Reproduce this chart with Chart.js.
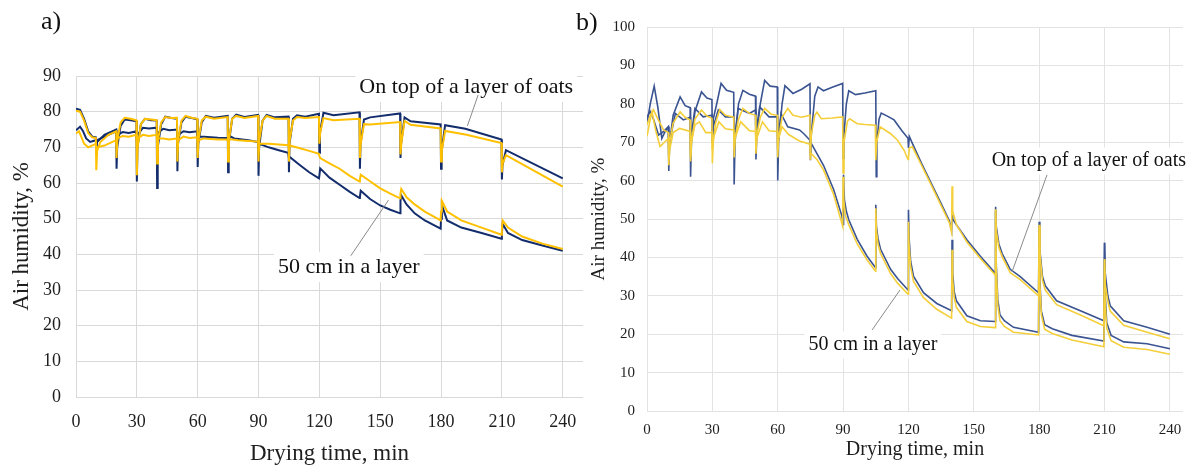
<!DOCTYPE html>
<html>
<head>
<meta charset="utf-8">
<script src="https://cdn.jsdelivr.net/npm/chart.js@4.4.1/dist/chart.umd.min.js"></script>
<style>
  body { margin: 0; background: #fff; width: 1200px; height: 468px; overflow: hidden; position: relative; font-family: 'Liberation Serif', 'Times New Roman', serif; }
  canvas { position: absolute; top: 0; }
  #ca { left: 0; }
  #cb { left: 590px; }
  .tag { position: absolute; font-size: 26px; line-height: 1; color: #111; }
</style>
</head>
<body>
<canvas id="ca" width="600" height="468"></canvas>
<canvas id="cb" width="610" height="468"></canvas>
<div class="tag" style="left:41px;top:8px">a)</div>
<div class="tag" style="left:576px;top:9px">b)</div>
<script>
// ---- data: [drying time, min ; air humidity, %] ----
// a) top of the oat layer
var aTopNavy = [[0,80.8],[2,80.5],[4,78],[6,74.5],[8,73],[9.8,72.8],[10,69],[10.4,71.5],[14,73.5],[19.8,75],[20,64],[20.3,70],[22,76],[24,77.8],[27,77.6],[29.8,77.3],[30,60.4],[30.3,70],[32,76.5],[34,78],[37,77.6],[39.8,77.5],[40,58.6],[40.3,70],[42,76.5],[44,78.6],[47,78.2],[49.8,78],[50,63.3],[50.3,71],[52,77],[54,78.6],[57,78.2],[59.8,77.9],[60,64.5],[60.3,71],[62,77],[64,78.8],[68,78.3],[74.8,78.8],[75,63],[75.3,71],[77,78],[79,79.2],[83,78.5],[89.8,79.1],[90,62],[90.3,70],[92,77.5],[94,79.1],[98,78.4],[104.8,78.6],[105,63],[105.3,71],[107,78],[109,79],[113,78.6],[119.8,79.4],[120,68.5],[120.3,74],[122,79.7],[127,79],[139.8,79.8],[140,64],[140.3,71],[142,77.8],[145,78.4],[159.8,79.5],[160,67],[160.3,71],[162,78.4],[165,77.3],[179.8,76.4],[180,64],[180.3,69],[182,76.2],[192,75.2],[209.8,72.2],[210,61],[210.3,65],[212,69.2],[240,61.3]];
var aTopYellow = [[0,80.3],[2,80],[4,77.5],[6,74],[8,72.8],[9.8,72.6],[10,63.6],[10.4,69],[12,71.5],[16,73.5],[19.8,74.5],[20,67],[20.4,72],[22,77],[24,78.3],[27,78],[29.8,77.6],[30,62.2],[30.4,70],[32,76.5],[34,78],[37,77.8],[39.8,77.6],[40,65.5],[40.4,72],[42,77],[44,78.5],[47,78.2],[49.8,78.3],[50,66],[50.4,72],[52,77.5],[54,78.8],[57,78.3],[59.8,78],[60,67],[60.4,72],[62,77.5],[64,78.6],[68,78],[74.8,78.5],[75,66],[75.4,72],[77,78],[79,78.8],[83,78.2],[89.8,78.8],[90,66],[90.4,72],[92,77.5],[94,78.8],[98,78],[104.8,78],[105,66],[105.4,72],[107,77.5],[109,78.5],[113,78.2],[119.8,78.5],[120,71],[120.4,74],[122,78.2],[127,77.6],[139.8,78],[140,67],[140.4,71],[142,76.5],[145,76.4],[159.8,77.1],[160,68],[160.4,71],[162,77.4],[165,76.3],[179.8,75.3],[180,66],[180.4,69],[182,74.6],[192,73.6],[209.8,71.2],[210,63],[210.4,65.5],[212,67.8],[240,59]];
// a) 50 cm deep in the layer
var aLayerNavy = [[0,74.8],[2,75.8],[3.5,74.5],[5,72.5],[7,71.5],[9.8,72],[10,70.5],[10.4,72],[14,73],[19.8,74.5],[20,72],[20.4,73.5],[23,74.3],[26,74],[29.8,74.5],[30,71.5],[30.4,73.5],[33,75.5],[36,75.3],[39.8,75.5],[40,72.5],[40.4,74],[43,75.2],[46,74.8],[49.8,75],[50,72.5],[50.4,73.5],[53,74.5],[56,74.2],[59.8,74.5],[60,72],[60.4,73],[63,73],[70,72.7],[74.8,72.6],[75,71.5],[75.4,73.3],[78,72.5],[85,72],[89.8,71.5],[90,70],[90.4,71],[95,70],[100,69.2],[104.6,68.5],[105,67],[105.4,67.3],[110,65.2],[115,63],[119.8,61.3],[120,62],[120.4,64.1],[125,61.5],[130,59.5],[135,57.5],[139.8,55.8],[140,56.2],[140.4,57.8],[145,55.5],[150,53.7],[155,52.5],[159.8,51.5],[160,55],[160.4,56.5],[163,54],[167,51.5],[172,49.5],[179.8,47.2],[180,50],[180.4,53.8],[183,49.5],[190,47.5],[200,46],[209.8,44.4],[210,46],[210.4,48.5],[213,46],[220,44],[230,42.5],[240,41]];
var aLayerYellow = [[0,73.9],[1.5,74.5],[4,71],[6,70],[9.8,71],[10,68],[10.4,70],[14,70.5],[19.8,72],[20,70.5],[20.4,72.5],[23,73.2],[26,73],[29.8,73.5],[30,70],[30.4,72.5],[33,73.5],[36,73.2],[39.8,73.5],[40,71],[40.4,72.5],[43,72.5],[46,72.2],[49.8,72.5],[50,71],[50.4,72],[53,73],[56,72.6],[59.8,72.8],[60,71],[60.4,72],[63,72.5],[70,72.2],[74.8,72.2],[75,71],[75.4,72.3],[80,72],[85,71.8],[89.8,71.6],[90,70],[90.4,71],[95,71],[100,70.8],[104.8,70.6],[105,69.5],[105.4,70.5],[110,69.8],[115,69],[119.8,68.2],[120,67.5],[120.4,67],[125,65.5],[130,64],[135,62],[139.8,60.4],[140,61],[140.4,62.3],[145,60.5],[150,58.5],[155,57],[159.8,55.7],[160,57],[160.4,58.3],[163,56],[167,54],[172,52],[179.8,49.5],[180,52],[180.4,55],[183,52],[190,49.5],[200,47.5],[209.8,45.5],[210,47],[210.4,49.5],[213,47.5],[220,45],[230,43],[240,41.5]];

// b) top of the oat layer
var bTopNavy = [[0,75],[1.5,80],[3.3,84.6],[5,79],[6.8,71],[8.5,73],[9.8,74],[10,62.5],[10.4,70],[12,77],[15.2,81.8],[17.5,79.5],[19.8,79],[20,61],[20.4,70],[22,78],[25,83.1],[27.5,81.5],[29.8,81.1],[30,70],[30.4,76],[32,80],[34,85.3],[36.5,83.5],[39.8,83],[40,59],[40.4,70],[42,80],[44,83.5],[47,82.5],[49.8,82],[50,65.5],[50.4,72],[52,80],[54,86.1],[56.5,84.6],[59.8,84.4],[60,60],[60.4,70],[62,80],[63.3,84.7],[67,82.7],[71,83.8],[74.8,85.2],[75,65.3],[75.4,72],[77,82],[78.5,84.4],[81,83.4],[85,84.3],[89.8,85.3],[90,65.8],[90.4,72],[91.5,80],[92.6,83.4],[95.7,82.4],[100,82.8],[105,83.4],[105.2,61],[105.5,70],[106.5,76],[107.5,77.6],[110.3,76.8],[113.4,75.8],[117,73],[119.8,71],[120,68.5],[120.4,71.5],[121.8,69.7],[126,64.5],[130.3,59.5],[135,54],[138.8,49.5],[139.8,47],[140,51],[140.3,50],[142,48.5],[146.8,44.6],[153,40.3],[159.8,35.9],[160,53.2],[160.3,48],[161.5,43.5],[163,41],[166.7,36.9],[171.3,35],[179.7,30.8],[180,49.3],[180.3,42],[181.5,35],[182.8,32.6],[188,28.7],[198.9,26.1],[209.7,23.5],[210,43.8],[210.3,36],[211.5,30],[212.6,27.4],[218.8,23.5],[229.5,21.8],[240,20]];
var bTopYellow = [[0,74.5],[1.5,77],[3,78.4],[5,76],[7.6,73.2],[9.8,72.5],[10,66],[10.4,70],[12,75],[15.2,77.9],[17.5,76.5],[19.8,75.8],[20,65],[20.4,70],[22,76],[25,78.4],[27.5,76.8],[29.8,76.2],[30,64.5],[30.4,70],[31.5,75],[33.4,78.5],[36,77],[39.8,76.5],[40,66],[40.4,71],[42,76],[44,78.8],[47,77.5],[49.8,77],[50,67],[50.4,72],[52,76.5],[54,78.8],[57,77.3],[59.8,77],[60,66],[60.4,71],[62,76.5],[64.6,78.8],[67,77],[71,76.5],[74.8,77],[75,65.4],[75.4,72],[77,77],[78,77.8],[80,76.1],[85,76.3],[89.8,76.6],[90,62],[90.4,70],[92,75.5],[93,76.1],[96.5,74.8],[100,74.6],[104.8,74.4],[105,65.3],[105.4,70],[107,74],[111.8,72.2],[115,70.5],[118,67.9],[119.8,65.5],[120,66],[120.4,68.5],[121.8,68.8],[126,64],[130.3,59],[135,53.5],[138.8,49],[139.8,46.5],[140,58.5],[140.3,52],[142,48.5],[146.8,44],[153,39.7],[159.8,35.4],[160,52.5],[160.3,47],[161.5,42.5],[163,40.2],[166.7,36],[171.3,34.2],[179.7,30],[180,48],[180.3,41],[181.5,34],[182.8,31.5],[188,27.7],[198.9,25],[209.7,22.2],[210,39.5],[210.3,33],[211.5,28.5],[212.6,26],[218.8,22.3],[229.5,20.5],[240,18.8]];
// b) 50 cm deep in the layer
var bLayerNavy = [[0,76.5],[1.5,78],[3,76],[5.3,71.9],[7,72.5],[9.8,74],[10,66],[10.4,70],[13,77.5],[16.7,75.8],[19.8,76.5],[20,68],[20.4,72],[22,78.8],[25.8,76.6],[29.8,77],[30,70],[30.4,74],[32.7,78.4],[36,76.6],[39.8,76.6],[40,68],[40.4,72],[41.8,78.8],[47,77.5],[49.8,78.4],[50,70],[50.4,74],[51.7,79.2],[56,76.6],[59.8,76.6],[60,68],[60.4,72],[61.5,77.5],[64.6,74],[70,73.2],[72,72.2],[74.8,70.5],[75,67],[75.4,69.7],[78,67],[81,64],[85.7,57.6],[89.5,50.7],[90,48.6],[90.2,61.5],[90.6,55],[91.5,52],[92.6,49.8],[96.5,44.7],[101,40.3],[104.9,37.3],[105,53.7],[105.3,48],[106,45],[107.2,42.1],[111.8,36.9],[115,34.5],[119.8,31.5],[120,52.4],[120.3,45],[121,39],[122.3,35.1],[126.9,30.8],[133,28],[139.8,26.1],[140,44.6],[140.3,36],[141,31],[142,28.7],[146.8,24.8],[153,23.5],[159.8,23.3],[160,52],[160.3,38],[161,29],[162,25],[164,23.5],[168.2,21.8],[179.7,20.5],[180,48],[180.3,34],[181,26],[182.5,22.5],[186,21.4],[195,19.7],[209.7,18.2],[210,43.8],[210.3,30],[211,23],[213,19.7],[218.8,18],[229.5,17.5],[240,16.2]];
var bLayerYellow = [[0,71.5],[1.5,76],[2.3,77.9],[4,73],[6,68.9],[8,70],[9.8,71],[10,64],[10.4,68],[12,72.5],[15,73.6],[19.8,72.8],[20,66],[20.4,70],[22,74.5],[24,75.3],[27,72.5],[29.8,72.5],[30,68],[30.4,71],[33,75.3],[36,73.5],[39.8,73.2],[40,68],[40.4,71],[43,75.3],[47,73],[49.8,72.8],[50,68],[50.4,71],[53,75.3],[56,73],[59.8,72.8],[60,68],[60.4,71],[62,74],[65,72],[70,70.3],[74.8,69.5],[75,66.5],[75.4,67],[78,65.5],[81,62.8],[85.7,56.3],[89.8,48.1],[90,61],[90.3,55],[91,51],[92.6,48.5],[96.5,43.5],[101,39.3],[104.9,36.4],[105,52.8],[105.3,47],[106,43.5],[107.2,41],[111.8,35.8],[115,33.3],[119.8,30.4],[120,49.3],[120.3,43],[121,37.5],[122.3,33.8],[126.9,29.5],[133,26.5],[139.8,24.2],[140,42],[140.3,34],[141,29.5],[142,27],[146.8,23.3],[153,22],[159.8,21.7],[160,52.5],[160.3,37],[161,27.5],[162,23.5],[164,22],[168.2,20.5],[179.7,19.8],[180,48.5],[180.3,33],[181,25],[182.5,21.3],[186,20.2],[195,18.5],[209.7,16.7],[210,39.5],[210.3,28],[211,21.5],[213,18.3],[218.8,16.6],[229.5,16],[240,14.8]];

var xTitle = 'Drying time, min';
var yTitle = 'Air humidity, %';
var topText = 'On top of a layer of oats';
var layerText = '50 cm in a layer';

Chart.defaults.font.family = "'Liberation Serif', 'Times New Roman', serif";
Chart.defaults.color = '#1e1e1e';

// labels with leader lines, placed in data units
var notes = {
    id: 'notes',
    afterDatasetsDraw: function(chart, args, opts) {
        var ctx = chart.ctx, x = chart.scales.x, y = chart.scales.y;
        ctx.save();
        ctx.font = opts.size + "px 'Liberation Serif', serif";
        opts.items.forEach(function(n) {
            var px = x.getPixelForValue(n.at[0]), py = y.getPixelForValue(n.at[1]);
            var w = ctx.measureText(n.text).width;
            ctx.fillStyle = '#fff';
            ctx.fillRect(px - w / 2 - 4, py - opts.size * 0.68, w + 8, opts.size * 1.36);
            ctx.strokeStyle = '#8a8a8a';
            ctx.lineWidth = 1;
            ctx.beginPath();
            ctx.moveTo(x.getPixelForValue(n.line[0][0]), y.getPixelForValue(n.line[0][1]));
            ctx.lineTo(x.getPixelForValue(n.line[1][0]), y.getPixelForValue(n.line[1][1]));
            ctx.stroke();
            ctx.fillStyle = '#111';
            ctx.textAlign = 'center';
            ctx.textBaseline = 'middle';
            ctx.fillText(n.text, px, py);
        });
        ctx.restore();
    }
};

function pts(a) {
    return a.map(function(p) { return {x: p[0], y: p[1]}; });
}

function series(data, color, width, order) {
    return {data: pts(data), borderColor: color, borderWidth: width, order: order,
            pointRadius: 0, tension: 0, fill: false};
}

function panel(id, o) {
    return new Chart(document.getElementById(id), {
        type: 'line',
        data: {datasets: o.datasets},
        plugins: [notes],
        options: {
            responsive: false,
            animation: false,
            layout: {padding: {top: o.top, right: 17, bottom: 0, left: 0}},
            plugins: {legend: {display: false}, tooltip: {enabled: false}, notes: {size: o.noteSize, items: o.notes}},
            scales: {
                x: {
                    type: 'linear', min: 0, max: o.xMax,
                    afterFit: function(s) { s.height = o.xH; },
                    ticks: {stepSize: 30, includeBounds: false, maxRotation: 0, padding: o.xPad, font: {size: o.tick}},
                    grid: {color: o.grid, drawTicks: false},
                    border: {display: false},
                    title: {display: true, text: xTitle, font: {size: o.title}, padding: {top: 0, bottom: o.xTitlePad}}
                },
                y: {
                    min: 0, max: o.yMax,
                    afterFit: function(s) { s.width = o.yW; },
                    ticks: {stepSize: 10, padding: o.yPad, font: {size: o.tick}},
                    grid: {color: o.grid, drawTicks: false},
                    border: {display: false},
                    title: {display: true, text: yTitle, font: {size: o.yTitleSize}, padding: {top: o.yTitlePad, bottom: 0}}
                }
            }
        }
    });
}

panel('ca', {
    datasets: [
        series(aTopYellow, '#ffc000', 2, 0),
        series(aLayerYellow, '#ffc000', 2, 0),
        series(aTopNavy, '#122c6c', 2, 1),
        series(aLayerNavy, '#122c6c', 2, 1)
    ],
    top: 76, xMax: 250, yMax: 90, xH: 71, yW: 76,
    tick: 18, title: 23, yTitleSize: 23, xPad: 14, yPad: 15, xTitlePad: 0, yTitlePad: 8,
    grid: '#d9d9d9', noteSize: 22,
    notes: [
        {text: topText, at: [192.4, 86.9], line: [[198.3, 84.7], [193, 76]]},
        {text: layerText, at: [134.5, 36.4], line: [[135.5, 39.6], [154.1, 55.2]]}
    ]
});

panel('cb', {
    datasets: [
        series(bTopYellow, '#f4cf3a', 1.6, 0),
        series(bLayerYellow, '#f4cf3a', 1.6, 0),
        series(bTopNavy, '#3a5391', 1.6, 1),
        series(bLayerNavy, '#3a5391', 1.6, 1)
    ],
    top: 27, xMax: 246, yMax: 100, xH: 57, yW: 57,
    tick: 15, title: 20, yTitleSize: 19, xPad: 10, yPad: 12, xTitlePad: 6, yTitlePad: -2,
    grid: '#e3e3e3', noteSize: 20,
    notes: [
        {text: topText, at: [202.8, 65.1], line: [[183.6, 61.5], [167.5, 36.2]]},
        {text: layerText, at: [103.7, 17.2], line: [[103.3, 21.1], [116.1, 31.5]]}
    ]
});
</script>
</body>
</html>
